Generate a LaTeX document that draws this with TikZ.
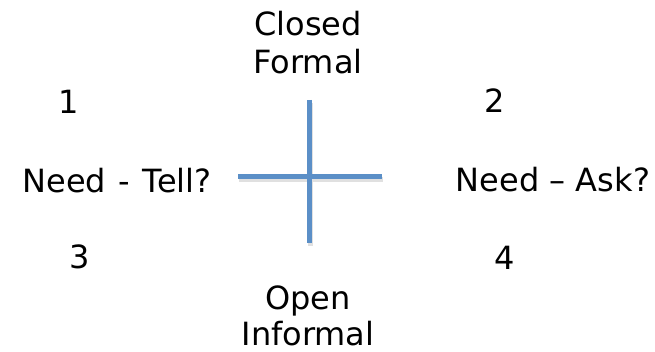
\documentclass[tikz,border=0pt]{standalone}
\usepackage{fontspec}
\setmainfont{DejaVu Sans}
\definecolor{crossblue}{HTML}{5B8FC7}
\begin{document}
\begin{tikzpicture}[x=1pt,y=-1pt,
  lbl/.style={font=\fontsize{32}{38}\selectfont, align=center, inner sep=0pt, anchor=base},
  bar/.style={line width=5pt, draw=crossblue},
  barshadow/.style={line width=5pt, draw=black!12}]
\useasboundingbox (0,0) rectangle (655,352);
\node[lbl] (top1) at (308,36) {Closed};
\node[lbl] (top2) at (308,74) {Formal};
\node[lbl] (bot1) at (308,309) {Open};
\node[lbl] (bot2) at (308,345) {Informal};
\node[lbl] (q1) at (69,114) {1};
\node[lbl] (q2) at (495,113) {2};
\node[lbl] (q3) at (80,269) {3};
\node[lbl] (q4) at (505,270) {4};
\node[lbl] (left) at (117,193) {Need\hspace{2.5pt} -\hspace{2.5pt} Tell?};
\node[lbl] (right) at (553,192) {Need – Ask?};
\coordinate (vt) at (309,100);
\coordinate (vb) at (309,243);
\coordinate (hl) at (238,177);
\coordinate (hr) at (382,177);
\draw[barshadow] ([xshift=1pt,yshift=-3pt]hl) -- ([xshift=1pt,yshift=-3pt]hr);
\draw[barshadow] ([xshift=1pt,yshift=-3pt]vt) -- ([xshift=1pt,yshift=-3pt]vb);
\draw[bar] (vt) -- (vb);
\draw[bar] (hl) -- (hr);
\end{tikzpicture}
\end{document}
